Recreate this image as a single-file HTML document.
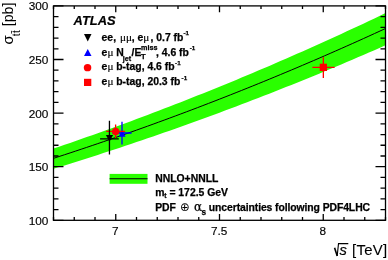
<!DOCTYPE html>
<html><head><meta charset="utf-8"><style>
html,body{margin:0;padding:0;background:#fff;}
body{width:388px;height:260px;overflow:hidden;}
svg{display:block;}
text{font-family:"Liberation Sans",Arial,Helvetica,sans-serif;}
.num{font-size:11.8px;fill:#000;stroke:#000;stroke-width:0.15px;}
.leg{font-size:10.4px;font-weight:bold;fill:#000;stroke:#000;stroke-width:0.25px;}
.leg .mu{stroke-width:0.15px;}
.sym{font-family:"Liberation Serif","DejaVu Serif",serif;font-weight:normal;}
.mu{font-family:"Liberation Serif","DejaVu Serif",serif;font-weight:normal;font-size:11.2px;}
.sup{font-size:6.2px;}
</style></head><body>
<svg width="388" height="260" viewBox="0 0 388 260">
<rect width="388" height="260" fill="#fff"/>
<polygon points="53.50,148.60 59.03,146.72 64.57,144.82 70.10,142.92 75.63,141.00 81.17,139.07 86.70,137.12 92.23,135.17 97.77,133.20 103.30,131.22 108.83,129.22 114.37,127.22 119.90,125.20 125.43,123.17 130.97,121.13 136.50,119.07 142.03,117.00 147.57,114.92 153.10,112.83 158.63,110.72 164.17,108.60 169.70,106.47 175.23,104.33 180.77,102.17 186.30,100.00 191.83,97.82 197.37,95.62 202.90,93.41 208.43,91.19 213.97,88.96 219.50,86.71 225.03,84.45 230.57,82.17 236.10,79.89 241.63,77.59 247.17,75.27 252.70,72.95 258.23,70.61 263.77,68.26 269.30,65.89 274.83,63.51 280.37,61.12 285.90,58.72 291.43,56.30 296.97,53.87 302.50,51.42 308.03,48.96 313.57,46.49 319.10,44.00 324.63,41.50 330.17,38.99 335.70,36.47 341.23,33.93 346.77,31.37 352.30,28.81 357.83,26.23 363.37,23.63 368.90,21.02 374.43,18.40 379.97,15.77 385.50,13.12 385.50,45.31 379.97,47.75 374.43,50.17 368.90,52.57 363.37,54.97 357.83,57.35 352.30,59.71 346.77,62.07 341.23,64.41 335.70,66.74 330.17,69.05 324.63,71.35 319.10,73.64 313.57,75.92 308.03,78.18 302.50,80.43 296.97,82.67 291.43,84.89 285.90,87.10 280.37,89.30 274.83,91.49 269.30,93.66 263.77,95.82 258.23,97.97 252.70,100.10 247.17,102.22 241.63,104.33 236.10,106.43 230.57,108.52 225.03,110.59 219.50,112.65 213.97,114.70 208.43,116.73 202.90,118.75 197.37,120.76 191.83,122.76 186.30,124.75 180.77,126.72 175.23,128.68 169.70,130.63 164.17,132.57 158.63,134.50 153.10,136.41 147.57,138.31 142.03,140.20 136.50,142.08 130.97,143.94 125.43,145.79 119.90,147.64 114.37,149.47 108.83,151.28 103.30,153.09 97.77,154.88 92.23,156.67 86.70,158.44 81.17,160.20 75.63,161.95 70.10,163.68 64.57,165.41 59.03,167.12 53.50,168.82" fill="#2aff00"/>
<polyline points="53.50,158.34 59.03,156.54 64.57,154.73 70.10,152.91 75.63,151.08 81.17,149.23 86.70,147.38 92.23,145.51 97.77,143.63 103.30,141.74 108.83,139.83 114.37,137.92 119.90,135.99 125.43,134.05 130.97,132.09 136.50,130.13 142.03,128.15 147.57,126.16 153.10,124.16 158.63,122.14 164.17,120.11 169.70,118.07 175.23,116.02 180.77,113.96 186.30,111.88 191.83,109.79 197.37,107.69 202.90,105.57 208.43,103.45 213.97,101.31 219.50,99.15 225.03,96.99 230.57,94.81 236.10,92.62 241.63,90.41 247.17,88.20 252.70,85.97 258.23,83.72 263.77,81.47 269.30,79.20 274.83,76.92 280.37,74.62 285.90,72.31 291.43,69.99 296.97,67.66 302.50,65.31 308.03,62.95 313.57,60.58 319.10,58.19 324.63,55.79 330.17,53.38 335.70,50.95 341.23,48.51 346.77,46.06 352.30,43.59 357.83,41.11 363.37,38.61 368.90,36.11 374.43,33.59 379.97,31.05 385.50,28.50" fill="none" stroke="#000" stroke-width="1.0"/>
<!-- data points -->
<g stroke-width="1.3" fill="none">
<path d="M122,121.8V144.4M112.3,133H131.6" stroke="#0000ff"/>
</g>
<polygon points="118.65,136.80 125.55,136.80 122.10,129.80" fill="#0000ff"/>
<g stroke-width="1.3" fill="none">
<path d="M115.6,124.6V138M106.2,131.4H125.1" stroke="#ff0000"/>
</g>
<circle cx="115.65" cy="131.45" r="3.65" fill="#ff0000"/>
<g stroke-width="1.3" fill="none">
<path d="M109.45,120.8V154.4M100.1,138.9H118.8" stroke="#000"/>
</g>
<polygon points="105.90,135.10 113.10,135.10 109.50,141.70" fill="#000"/>
<g stroke-width="1.3" fill="none">
<path d="M323.35,57.3V78M312.4,67.35H334.6" stroke="#ff0000"/>
</g>
<rect x="319.7" y="63.7" width="7.3" height="7.3" fill="#ff0000"/>
<!-- frame -->
<rect x="53.5" y="5.9" width="332.0" height="214.4" fill="none" stroke="#000" stroke-width="1.3"/>
<path d="M53.50,220.3V217.10M53.50,5.9V9.10M74.25,220.3V217.10M74.25,5.9V9.10M95.00,220.3V217.10M95.00,5.9V9.10M115.75,220.3V214.00M115.75,5.9V12.20M136.50,220.3V217.10M136.50,5.9V9.10M157.25,220.3V217.10M157.25,5.9V9.10M178.00,220.3V217.10M178.00,5.9V9.10M198.75,220.3V217.10M198.75,5.9V9.10M219.50,220.3V214.00M219.50,5.9V12.20M240.25,220.3V217.10M240.25,5.9V9.10M261.00,220.3V217.10M261.00,5.9V9.10M281.75,220.3V217.10M281.75,5.9V9.10M302.50,220.3V217.10M302.50,5.9V9.10M323.25,220.3V214.00M323.25,5.9V12.20M344.00,220.3V217.10M344.00,5.9V9.10M364.75,220.3V217.10M364.75,5.9V9.10M385.50,220.3V217.10M385.50,5.9V9.10M53.5,220.30H63.5M385.5,220.30H375.5M53.5,209.58H58.5M385.5,209.58H380.5M53.5,198.86H58.5M385.5,198.86H380.5M53.5,188.14H58.5M385.5,188.14H380.5M53.5,177.42H58.5M385.5,177.42H380.5M53.5,166.70H63.5M385.5,166.70H375.5M53.5,155.98H58.5M385.5,155.98H380.5M53.5,145.26H58.5M385.5,145.26H380.5M53.5,134.54H58.5M385.5,134.54H380.5M53.5,123.82H58.5M385.5,123.82H380.5M53.5,113.10H63.5M385.5,113.10H375.5M53.5,102.38H58.5M385.5,102.38H380.5M53.5,91.66H58.5M385.5,91.66H380.5M53.5,80.94H58.5M385.5,80.94H380.5M53.5,70.22H58.5M385.5,70.22H380.5M53.5,59.50H63.5M385.5,59.50H375.5M53.5,48.78H58.5M385.5,48.78H380.5M53.5,38.06H58.5M385.5,38.06H380.5M53.5,27.34H58.5M385.5,27.34H380.5M53.5,16.62H58.5M385.5,16.62H380.5M53.5,5.90H63.5M385.5,5.90H375.5" stroke="#000" stroke-width="1.3" fill="none"/>
<g class="num"><text x="48.4" y="224.80" text-anchor="end">100</text><text x="48.4" y="171.20" text-anchor="end">150</text><text x="48.4" y="117.60" text-anchor="end">200</text><text x="48.4" y="64.00" text-anchor="end">250</text><text x="48.4" y="10.40" text-anchor="end">300</text><text x="115.35" y="235.2" text-anchor="middle">7</text><text x="219.10" y="235.2" text-anchor="middle">7.5</text><text x="322.85" y="235.2" text-anchor="middle">8</text></g>
<!-- axis titles -->
<path d="M334.6,247.8L337.2,255.9" stroke="#000" stroke-width="1.6" fill="none"/>
<path d="M337.2,255.9L338.5,243.6H348.3" stroke="#000" stroke-width="1.1" fill="none"/>
<text x="339.6" y="255.1" style="font-size:14.8px;font-style:italic;stroke:#000;stroke-width:0.2px">s</text>
<text x="387.3" y="254.8" text-anchor="end" style="font-size:14.9px;letter-spacing:0.25px;stroke:#000;stroke-width:0.1px">[TeV]</text>
<g transform="translate(12.7,0) rotate(-90)" style="font-size:14.2px">
<text x="-44.5" y="0.4" style="font-size:14.8px">σ</text>
<text x="-36.2" y="7.4" style="font-size:10px;letter-spacing:0.5px">tt</text>
<path d="M-33.6,-1.2H-30.8" stroke="#000" stroke-width="0.8"/>
<text x="-2.6" y="0" text-anchor="end">[pb]</text>
</g>
<!-- ATLAS -->
<text x="73.6" y="24.7" style="font-size:12.9px;font-weight:bold;font-style:italic;stroke:#000;stroke-width:0.2px">ATLAS</text>
<!-- legend 1 -->
<polygon points="84.00,34.10 91.50,34.10 87.75,41.40" fill="#000"/>
<polygon points="84.00,56.00 91.50,56.00 87.75,49.00" fill="#0000ff"/>
<ellipse cx="87.55" cy="67.65" rx="3.75" ry="3.65" fill="#ff0000"/>
<rect x="84" y="78.8" width="7.3" height="7.2" fill="#ff0000"/>
<g class="leg">
<text x="101.6" y="40.6">ee,</text>
<text x="120.0" y="40.6" class="mu">μμ</text>
<text x="131.8" y="40.6">,</text>
<text x="137.6" y="40.6">e</text>
<text x="143.2" y="40.6" class="mu">μ</text>
<text x="150.5" y="40.6">, 0.7 fb</text>
<text x="183.4" y="35.3" class="sup">-1</text>
<text x="101.6" y="55.6">e<tspan class="mu">μ</tspan> N</text>
<text x="122.7" y="61.1" style="font-size:7.2px">jet</text>
<text x="131.6" y="55.6">/E</text>
<text x="141" y="58.5" style="font-size:7.6px">T</text>
<text x="141" y="49.8" style="font-size:7.2px">miss</text>
<text x="156" y="55.6">, 4.6 fb</text><text x="189.8" y="50" class="sup">-1</text>
<text x="101.6" y="70.2">e<tspan class="mu">μ</tspan> b-tag, 4.6 fb</text><text x="175.1" y="65.1" class="sup">-1</text>
<text x="101.6" y="85.1">e<tspan class="mu">μ</tspan> b-tag, 20.3 fb</text><text x="181.6" y="80.1" class="sup">-1</text>
</g>
<!-- legend 2 -->
<rect x="109.6" y="173.9" width="37.9" height="9.9" fill="#2aff00"/>
<path d="M109.6,178.7H147.5" stroke="#000" stroke-width="1.1"/>
<g class="leg">
<text x="155.2" y="181.6">NNLO+NNLL</text>
<text x="155.2" y="196">m</text><text x="164.3" y="198" style="font-size:6.8px">t</text><text x="169.4" y="196">= 172.5 GeV</text>
<text x="155.2" y="211">PDF</text>
<text x="180.0" y="211.1" style="font-family:'DejaVu Sans',sans-serif;font-weight:normal;font-size:11.6px;stroke-width:0">⊕</text>
<text x="193.9" y="210.6" style="font-family:'DejaVu Serif',serif;font-weight:normal;font-size:12px">α</text>
<text x="201.6" y="214.6" style="font-size:8.2px">s</text>
<text x="208.8" y="211" style="letter-spacing:-0.09px">uncertainties following PDF4LHC</text>
</g>
</svg>
</body></html>
